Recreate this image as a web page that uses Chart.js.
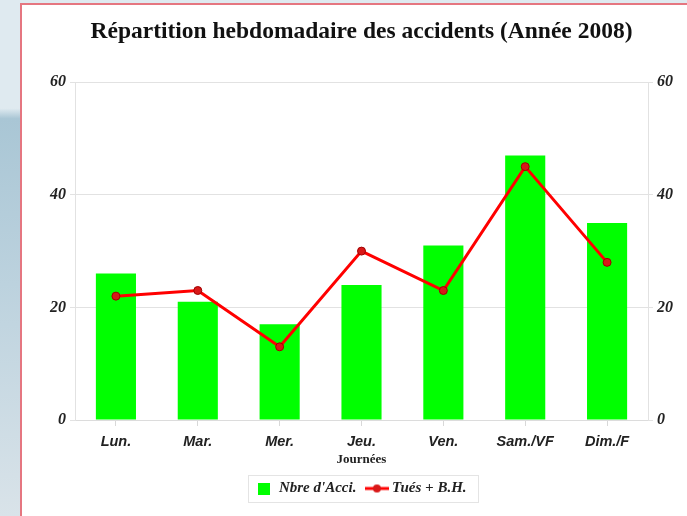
<!DOCTYPE html>
<html><head><meta charset="utf-8">
<script src="https://cdn.jsdelivr.net/npm/chart.js@4"></script>
<style>
html,body{margin:0;padding:0;width:687px;height:516px;overflow:hidden;}
body{background:linear-gradient(180deg,#dfeaf0 0%,#dfeaf0 21%,#a9c6d5 23%,#bcd2de 55%,#d9e3e9 100%);position:relative;}
#page{position:absolute;left:20px;top:3px;width:667px;height:513px;background:#fff;border-left:2px solid #e57680;border-top:2px solid #e57680;box-sizing:border-box;}
#wrap{position:absolute;left:0;top:0;width:687px;height:516px;}
</style></head>
<body>
<div id="page"></div>
<div id="wrap"><canvas id="c" width="687" height="516"></canvas></div>
<script>
const categories = ["Lun.", "Mar.", "Mer.", "Jeu.", "Ven.", "Sam./VF", "Dim./F"];
const accidents = [26, 21, 17, 24, 31, 47, 35];
const tuesBH = [22, 23, 13, 30, 23, 45, 28];
const yTicks = [0, 20, 40, 60];
const titleText = "Répartition hebdomadaire des accidents (Année 2008)";
const xTitle = "Journées";
const legendNames = ["Nbre d'Acci.", "Tués + B.H."];

const sq = document.createElement('canvas'); sq.width = 12; sq.height = 12;
{ const g = sq.getContext('2d'); g.fillStyle = '#00ff00'; g.fillRect(0,0,12,12); }
const ln = document.createElement('canvas'); ln.width = 24; ln.height = 10;
{ const g = ln.getContext('2d'); g.strokeStyle = '#ff0000'; g.lineWidth = 3;
  g.beginPath(); g.moveTo(0,5); g.lineTo(24,5); g.stroke();
  g.fillStyle = '#d81818'; g.beginPath(); g.arc(12,5,4,0,Math.PI*2); g.fill(); }

const legendBorder = {
  id: 'legendBorder',
  afterDraw(chart) {
    const hb = chart.legend && chart.legend.legendHitBoxes;
    if (!hb || !hb.length) return;
    let l = Infinity, r = -Infinity, t = Infinity, b = -Infinity;
    hb.forEach(h => { l = Math.min(l, h.left); r = Math.max(r, h.left + h.width); t = Math.min(t, h.top); b = Math.max(b, h.top + h.height); });
    const ctx = chart.ctx; ctx.save();
    ctx.strokeStyle = '#e4e4e4'; ctx.lineWidth = 1;
    ctx.strokeRect(Math.round(l - 8) + 0.5, Math.round(t - 6) + 0.5, Math.round(r - l + 20), Math.round(b - t + 12));
    ctx.restore();
  }
};

const serifBI = {family: "'Liberation Serif', 'DejaVu Serif', serif", weight: 'bold', style: 'italic', size: 16};
new Chart(document.getElementById('c'), {
  data: {
    labels: categories,
    datasets: [
      { type: 'line', label: legendNames[1], data: tuesBH, yAxisID: 'y',
        borderColor: '#ff0000', borderWidth: 3, pointRadius: 4, pointBackgroundColor: '#d81818',
        pointBorderColor: '#a00000', pointBorderWidth: 1, tension: 0 },
      { type: 'bar', label: legendNames[0], data: accidents, yAxisID: 'y',
        backgroundColor: '#00ff00', borderWidth: 0, barPercentage: 0.49, categoryPercentage: 1 }
    ]
  },
  options: {
    responsive: false, animation: false,
    layout: {padding: {left: 0, right: 0, top: 0, bottom: 10}},
    plugins: {
      title: {display: true, text: titleText, color: '#111', fullSize: false,
        font: {family: "'Liberation Serif', serif", weight: 'bold', size: 23.5},
        padding: {top: 18, bottom: 36}},
      legend: {position: 'bottom', fullSize: false,
        labels: {usePointStyle: true, color: '#222', padding: 13,
          font: {family: "'Liberation Serif', serif", weight: 'bold', style: 'italic', size: 15},
          generateLabels: () => [
            {text: legendNames[0], pointStyle: sq, fillStyle: '#00ff00', strokeStyle: '#00ff00', lineWidth: 0, datasetIndex: 1, fontColor: '#222'},
            {text: legendNames[1], pointStyle: ln, fillStyle: '#ff0000', strokeStyle: '#ff0000', lineWidth: 0, datasetIndex: 0, fontColor: '#222'}
          ]}},
      tooltip: {enabled: false}
    },
    scales: {
      x: {
        grid: {display: true, offset: false, drawOnChartArea: false, drawTicks: true, tickLength: 6, color: '#d8d8d8'},
        border: {color: '#dcdcdc'},
        ticks: {color: '#222', padding: 7, font: {family: "'Liberation Sans', Arial, sans-serif", weight: 'bold', style: 'italic', size: 14.5}},
        title: {display: true, text: xTitle, color: '#222', padding: {top: -6, bottom: 1},
          font: {family: "'Liberation Serif', serif", weight: 'bold', size: 13}}
      },
      y: {
        position: 'left', min: 0, max: 60,
        afterFit: s => { s.width = 75; },
        afterBuildTicks: s => { s.ticks = yTicks.map(v => ({value: v})); },
        grid: {color: '#e2e2e2', tickLength: 5},
        border: {color: '#e2e2e2'},
        ticks: {color: '#222', padding: 4, font: serifBI}
      },
      y2: {
        position: 'right', min: 0, max: 60,
        afterFit: s => { s.width = 39; },
        afterBuildTicks: s => { s.ticks = yTicks.map(v => ({value: v})); },
        grid: {drawOnChartArea: false, color: '#e2e2e2', tickLength: 5},
        border: {color: '#e2e2e2'},
        ticks: {color: '#222', padding: 4, font: serifBI}
      }
    }
  },
  plugins: [legendBorder]
});
</script>
</body></html>
